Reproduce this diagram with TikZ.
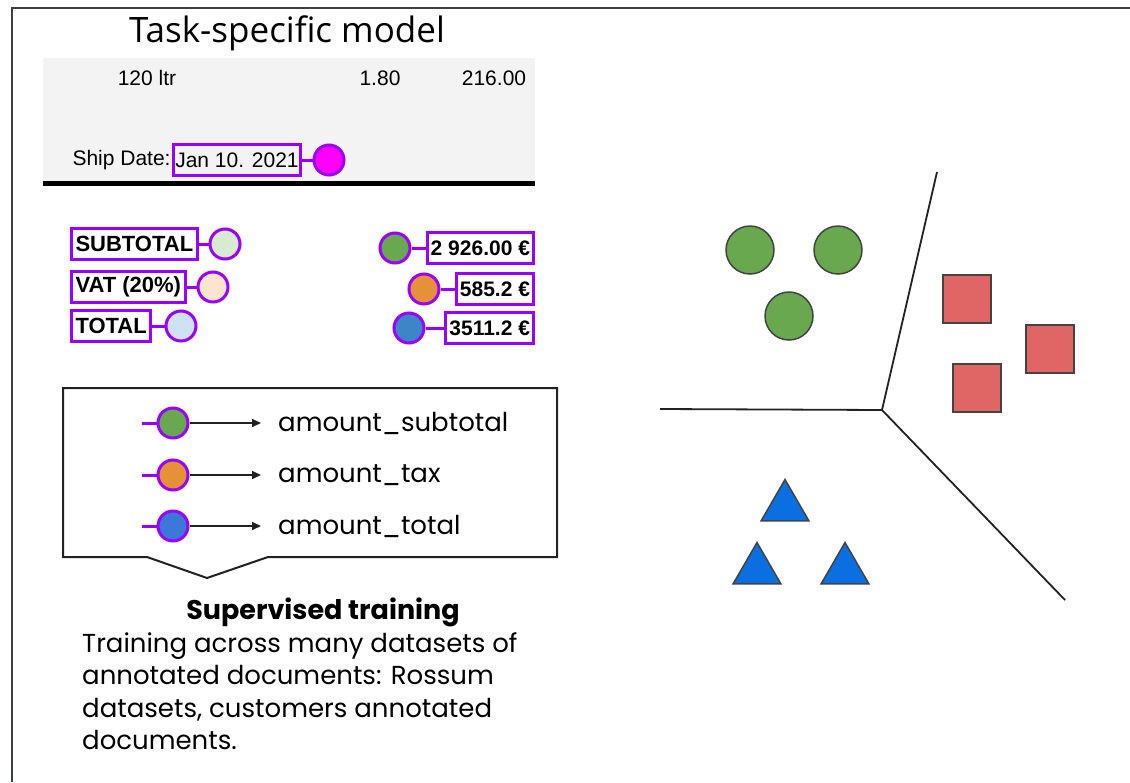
\documentclass[tikz,border=0pt]{standalone}
\usepackage{fontspec}
\setmainfont{Poppins}
\newfontfamily\docfont{Liberation Sans}
\newfontfamily\titlefont{Open Sans}
\usetikzlibrary{arrows.meta, shapes.geometric}

\definecolor{framegray}{HTML}{3C4043}
\definecolor{papergray}{HTML}{F3F3F3}
\definecolor{fieldpurple}{HTML}{9900FF}
\definecolor{datemagenta}{HTML}{FF00FF}
\definecolor{palegreen}{HTML}{D9EAD3}
\definecolor{paleorange}{HTML}{FCE5CD}
\definecolor{paleblue}{HTML}{CFE2F3}
\definecolor{taggreen}{HTML}{6AA84F}
\definecolor{tagorange}{HTML}{E69138}
\definecolor{tagblue}{HTML}{3D85C6}
\definecolor{keyblue}{HTML}{3C78D8}
\definecolor{edgegray}{HTML}{434343}
\definecolor{boxred}{HTML}{E06666}
\definecolor{triblue}{HTML}{0A6FE0}
\definecolor{inkblack}{HTML}{222222}

\begin{document}
\begin{tikzpicture}[
    x=1pt, y=-1pt,
    field/.style={draw=fieldpurple, line width=3pt, fill=white,
        inner xsep=4pt, inner ysep=0pt, minimum height=31pt,
        font=\docfont\bfseries\fontsize{22}{22}\selectfont},
    valfield/.style={field, inner xsep=3.5pt,
        font=\docfont\bfseries\fontsize{21}{21}\selectfont},
    datefield/.style={field, fill=none, inner xsep=2pt,
        font=\docfont\fontsize{21}{21}\selectfont},
    tag/.style={circle, draw=fieldpurple, line width=3pt,
        minimum size=30pt, inner sep=0pt},
    link/.style={draw=fieldpurple, line width=3pt},
    flow/.style={draw=inkblack, line width=1.5pt,
        -{Triangle[length=9pt, width=8pt]}, shorten >=17pt},
    paper/.style={font=\docfont\fontsize{21}{21}\selectfont},
    keylabel/.style={anchor=west, inner sep=0pt,
        font=\fontsize{26}{26}\selectfont},
    dot/.style={circle, draw=edgegray, line width=1.5pt, fill=taggreen,
        minimum size=48pt, inner sep=0pt},
    block/.style={rectangle, draw=edgegray, line width=1.5pt, fill=boxred,
        minimum size=48pt, inner sep=0pt},
    wedge/.style={regular polygon, regular polygon sides=3, draw=edgegray,
        line width=1.5pt, fill=triblue, minimum size=55pt, inner sep=0pt},
    border/.style={draw=inkblack, line width=2pt}
    ]
\useasboundingbox (0,0) rectangle (1130,782);

% frame
\draw[framegray, line width=2pt] (12,782) -- (12,8) -- (1130,8);

% invoice snippet
\node[font=\titlefont\fontsize{35}{35}\selectfont] (title) at (287,33) {Task-specific model};
\fill[papergray] (43,58) rectangle (535,182);
\draw[black, line width=5pt] (43,183) -- (535,183);
\node[paper] (qty) at (147,78) {120 ltr};
\node[paper] (price) at (380,78) {1.80};
\node[paper] (sum) at (494,78) {216.00};
\node[datefield] (date) at (237,160) {Jan 10. 2021};
\node[paper, anchor=east, inner sep=1pt] (shiplbl) at (date.west) {Ship Date:};
\node[tag, fill=datemagenta] (datetag) at (329,160) {};
\draw[link] (date) -- (datetag);

% key fields
\node[field, anchor=west] (subtotal) at (70,244) {SUBTOTAL};
\node[tag, fill=palegreen] (subtotaltag) at (225,244) {};
\node[field, anchor=west] (vat) at (70,287) {VAT (20\%)};
\node[tag, fill=paleorange] (vattag) at (213,287) {};
\node[field, anchor=west] (total) at (70,326) {TOTAL};
\node[tag, fill=paleblue] (totaltag) at (181,326) {};
\draw[link] (subtotal) -- (subtotaltag);
\draw[link] (vat) -- (vattag);
\draw[link] (total) -- (totaltag);

% value fields
\node[valfield, anchor=east] (subval) at (535,248) {2 926.00 €};
\node[tag, fill=taggreen] (subvaltag) at (395,248) {};
\node[valfield, anchor=east] (vatval) at (535,289) {585.2 €};
\node[tag, fill=tagorange] (vatvaltag) at (424,289) {};
\node[valfield, anchor=east] (totval) at (535,328) {3511.2 €};
\node[tag, fill=tagblue] (totvaltag) at (409,328) {};
\draw[link] (subvaltag) -- (subval);
\draw[link] (vatvaltag) -- (vatval);
\draw[link] (totvaltag) -- (totval);

% callout with the learned classes
\draw[border, line join=miter] (63,388) -- (557,388) -- (557,557) -- (268,557)
    -- (207,578) -- (147,557) -- (63,557) -- cycle;
\node[tag, fill=taggreen] (keysub) at (173,423) {};
\node[tag, fill=tagorange] (keytax) at (173,475) {};
\node[tag, fill=keyblue] (keytot) at (173,526) {};
\coordinate (stubsub) at (142,423);
\coordinate (stubtax) at (142,475);
\coordinate (stubtot) at (142,526);
\node[keylabel] (amsub) at (278,423) {amount\_subtotal};
\node[keylabel] (amtax) at (278,475) {amount\_tax};
\node[keylabel] (amtot) at (278,526) {amount\_total};
\draw[link] (stubsub) -- (keysub);
\draw[link] (stubtax) -- (keytax);
\draw[link] (stubtot) -- (keytot);
\draw[flow] (keysub) -- (amsub);
\draw[flow] (keytax) -- (amtax);
\draw[flow] (keytot) -- (amtot);

% caption
\node[font=\bfseries\fontsize{27}{27}\selectfont] (head) at (323,612) {Supervised training};
\node[anchor=north west, inner sep=0pt, align=left,
    font=\fontsize{26}{32.5}\selectfont] (body) at (82,632)
    {Training across many datasets of\\annotated documents: Rossum\\datasets,
    customers annotated\\documents.};

% feature space
\node[dot] (g1) at (750,250) {};
\node[dot] (g2) at (838,250) {};
\node[dot] (g3) at (789,316) {};
\node[block] (r1) at (967,299) {};
\node[block] (r2) at (1050,349) {};
\node[block] (r3) at (977,388) {};
\node[wedge] (b1) at (785,507) {};
\node[wedge] (b2) at (757,570) {};
\node[wedge] (b3) at (845,570) {};
\coordinate (hub) at (882,410);
\coordinate (leftend) at (660,409);
\coordinate (topend) at (937,172);
\coordinate (lowend) at (1065,600);
\draw[border, line width=1.8pt] (leftend) -- (hub) -- (topend);
\draw[border, line width=1.8pt] (hub) -- (lowend);
\end{tikzpicture}
\end{document}
